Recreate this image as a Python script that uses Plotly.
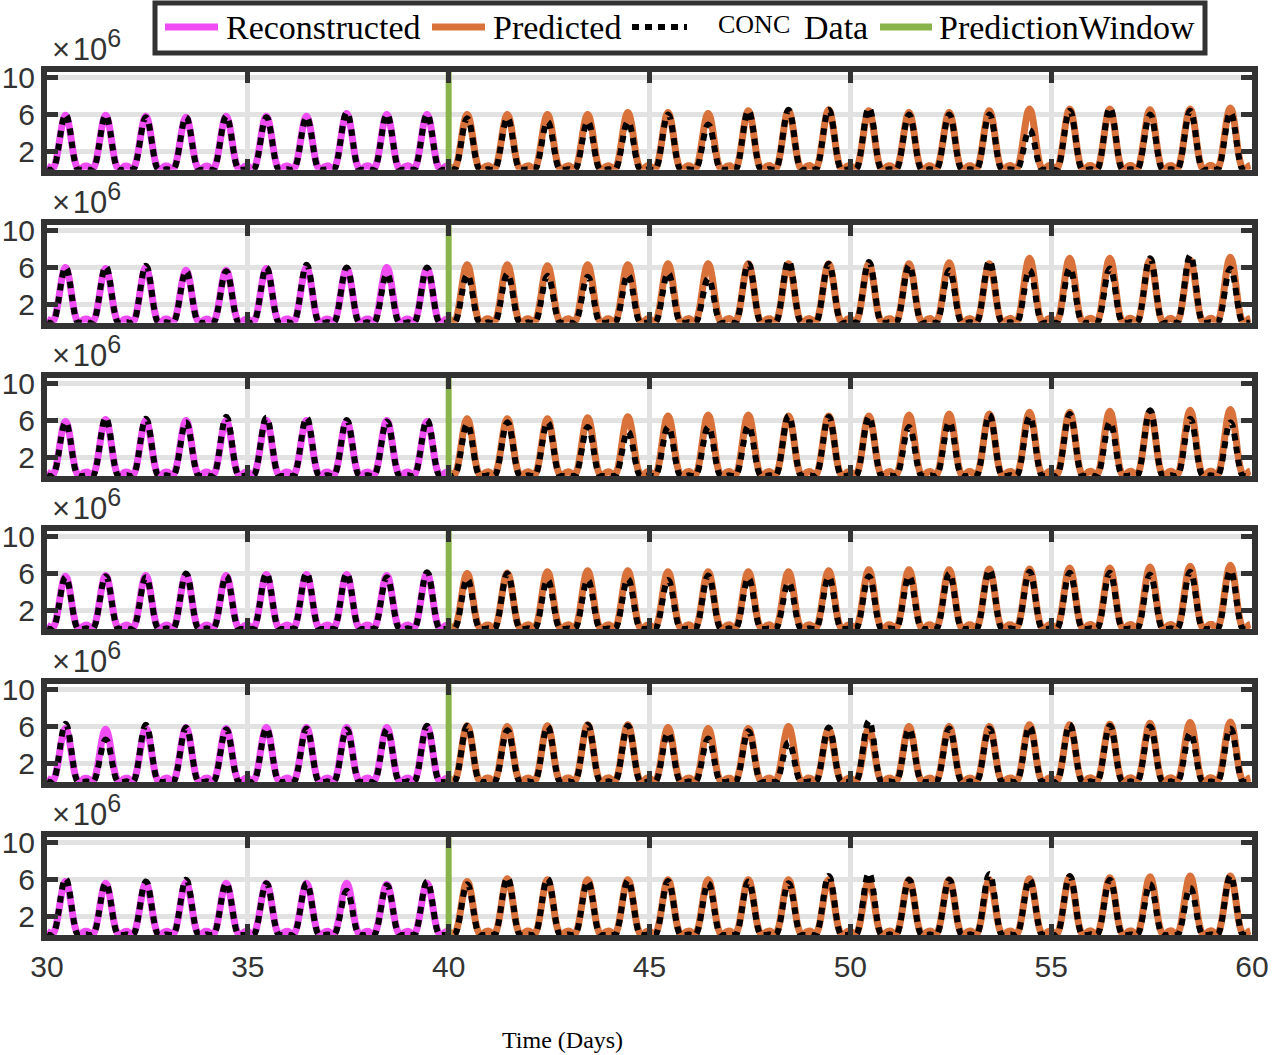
"""Reconstructed vs predicted CONC, six stacked panels (days 30-60)."""

import plotly.graph_objects as go
from plotly.subplots import make_subplots

DAYS = list(range(30, 60))
PREDICTION_START = 40
HOURS_PER_DAY = 24
Y_RANGE = [0, 10.6]          # x10^6
X_TICKS = [30, 35, 40, 45, 50, 55, 60]
Y_TICKS = [2, 6, 10]

# one daily cycle, hourly, as a fraction of that day's peak
MODEL_PROFILE = [0.07, 0.05, 0.02, 0.01, 0.04, 0.12, 0.26, 0.44, 0.64, 0.82, 0.95, 1.00,
                 0.96, 0.84, 0.66, 0.45, 0.26, 0.12, 0.04, 0.01, 0.01, 0.03, 0.06, 0.07]
DATA_PROFILE = [0.01, 0.00, 0.00, 0.00, 0.02, 0.10, 0.24, 0.43, 0.63, 0.82, 0.95, 1.00,
                0.97, 0.85, 0.67, 0.45, 0.25, 0.10, 0.02, 0.00, 0.00, 0.00, 0.00, 0.01]

# daily peaks (x10^6), one list per panel
RECON_PEAKS = [
    [5.9, 5.9, 5.8, 5.7, 5.8, 5.8, 5.8, 6.1, 6.0, 6.0],
    [6.0, 5.9, 6.0, 5.7, 5.7, 5.9, 6.0, 5.9, 6.0, 5.9],
    [5.9, 6.1, 6.0, 6.0, 6.0, 6.0, 6.0, 5.9, 6.0, 5.9],
    [5.7, 5.8, 5.8, 5.9, 5.8, 5.9, 5.9, 5.9, 5.8, 6.0],
    [5.8, 5.7, 5.8, 5.9, 5.8, 5.9, 5.9, 5.9, 5.9, 6.0],
    [5.8, 5.6, 5.6, 5.7, 5.6, 5.6, 5.6, 5.6, 5.5, 5.6],
]
PRED_PEAKS = [
    [6.0, 6.0, 6.0, 6.0, 6.2, 6.2, 6.1, 6.4, 6.4, 6.5, 6.4, 6.2, 6.2, 6.4, 6.6, 6.6, 6.6, 6.5, 6.6, 6.7],
    [6.3, 6.3, 6.2, 6.3, 6.3, 6.4, 6.4, 6.4, 6.4, 6.4, 6.4, 6.4, 6.5, 6.4, 7.0, 7.0, 7.0, 6.8, 6.8, 7.1],
    [6.2, 6.2, 6.2, 6.3, 6.4, 6.5, 6.6, 6.6, 6.5, 6.5, 6.5, 6.6, 6.7, 6.7, 6.9, 6.9, 7.0, 7.0, 7.1, 7.2],
    [6.0, 6.05, 6.2, 6.3, 6.3, 6.2, 6.2, 6.2, 6.2, 6.3, 6.4, 6.4, 6.4, 6.5, 6.5, 6.6, 6.6, 6.7, 6.8, 6.9],
    [6.1, 6.0, 6.1, 6.2, 6.2, 5.9, 5.8, 5.8, 6.0, 5.7, 5.8, 6.0, 6.0, 6.0, 6.2, 6.2, 6.25, 6.35, 6.45, 6.5],
    [5.8, 6.1, 6.0, 6.0, 6.0, 6.0, 6.0, 6.0, 6.0, 6.0, 5.85, 6.0, 6.0, 6.0, 6.1, 6.3, 6.2, 6.3, 6.4, 6.4],
]
DATA_PEAKS = [
    [6.0, 5.9, 5.7, 5.7, 5.8, 5.7, 5.7, 6.2, 6.0, 6.0, 5.6, 5.6, 5.2, 5.2, 5.2,
     6.0, 4.9, 6.4, 6.5, 6.5, 6.7, 6.0, 6.0, 6.0, 4.3, 6.4, 6.7, 6.0, 6.4, 6.2],
    [6.0, 6.1, 6.2, 5.6, 5.6, 6.0, 6.3, 6.0, 5.3, 6.0, 5.2, 5.3, 5.1, 5.0, 5.2,
     5.4, 4.8, 6.4, 6.7, 6.4, 6.6, 6.2, 5.7, 6.7, 5.7, 5.9, 5.9, 7.0, 7.3, 5.9],
    [5.8, 6.3, 6.2, 5.8, 6.4, 6.3, 6.3, 6.05, 5.9, 6.05, 5.6, 5.8, 5.8, 5.3, 4.8,
     5.3, 5.3, 5.4, 6.5, 6.4, 6.4, 5.3, 5.8, 6.6, 6.4, 6.7, 5.8, 7.1, 6.2, 5.8],
    [5.6, 5.7, 5.6, 6.0, 5.7, 6.0, 6.05, 6.0, 5.6, 6.15, 5.4, 6.0, 5.3, 5.3, 5.4,
     5.3, 5.8, 5.5, 5.0, 5.6, 5.7, 5.7, 6.0, 6.4, 6.2, 6.1, 6.1, 5.9, 6.2, 6.3],
    [6.3, 4.6, 6.2, 5.9, 5.7, 5.8, 5.8, 5.7, 5.7, 6.1, 6.1, 5.6, 6.0, 6.2, 6.1,
     5.3, 4.7, 5.5, 4.3, 5.9, 6.6, 5.7, 5.8, 5.8, 6.0, 6.2, 6.1, 6.0, 5.3, 5.8],
    [6.1, 5.6, 5.8, 6.0, 5.6, 5.6, 5.6, 4.8, 5.4, 5.8, 5.5, 6.2, 6.1, 5.8, 5.9,
     5.85, 5.6, 5.8, 5.6, 6.4, 6.7, 6.0, 6.0, 6.6, 6.0, 6.4, 6.0, 5.5, 5.1, 6.4],
]

MAGENTA = "#ef4cf3"
ORANGE = "#d9713a"
GREEN = "#89b34b"
FRAME = "#333333"
GRID = "#e2e2e2"
SANS = "Liberation Sans, Arial, Helvetica"
SERIF = "Liberation Serif, Times New Roman, serif"
DATA_DASH = "7px,6px"

W, H = 1272, 1055
PLOT_LEFT, PLOT_RIGHT, PLOT_TOP, PLOT_BOTTOM = 47, 1252, 72, 935   # page pixels
M_L, M_T = PLOT_LEFT, PLOT_TOP
M_R, M_B = W - PLOT_RIGHT, H - PLOT_BOTTOM


def cycles(days, peaks, profile):
    """Stack the hourly daily profile, scaled by each day's peak."""
    xs, ys = [], []
    for day, peak in zip(days, peaks):
        for h, frac in enumerate(profile):
            xs.append(day + h / HOURS_PER_DAY)
            ys.append(peak * frac)
    return xs, ys


def px_x(px):
    return (px - PLOT_LEFT) / (PLOT_RIGHT - PLOT_LEFT)


def px_y(py):
    return 1 + (PLOT_TOP - py) / (PLOT_BOTTOM - PLOT_TOP)


n_rows = len(DATA_PEAKS)
fig = make_subplots(rows=n_rows, cols=1, shared_xaxes=True, vertical_spacing=0.064)

recon_days = [d for d in DAYS if d < PREDICTION_START]
pred_days = [d for d in DAYS if d >= PREDICTION_START]

for i in range(n_rows):
    row = i + 1
    x, y = cycles(recon_days, RECON_PEAKS[i], MODEL_PROFILE)
    fig.add_trace(go.Scatter(x=x, y=y, mode="lines", name="Reconstructed",
                             line=dict(color=MAGENTA, width=7, shape="spline", smoothing=0.8)),
                  row=row, col=1)
    x, y = cycles(pred_days, PRED_PEAKS[i], MODEL_PROFILE)
    fig.add_trace(go.Scatter(x=x, y=y, mode="lines", name="Predicted",
                             line=dict(color=ORANGE, width=7, shape="spline", smoothing=0.8)),
                  row=row, col=1)
    x, y = cycles(DAYS, DATA_PEAKS[i], DATA_PROFILE)
    fig.add_trace(go.Scatter(x=x, y=y, mode="lines", name="CONC Data",
                             line=dict(color="black", width=6, dash=DATA_DASH,
                                       shape="spline", smoothing=0.8)),
                  row=row, col=1)
    fig.add_trace(go.Scatter(x=[PREDICTION_START, PREDICTION_START], y=Y_RANGE, mode="lines",
                             name="PredictionWindow", line=dict(color=GREEN, width=6)),
                  row=row, col=1)
    yref = "y domain" if row == 1 else f"y{row} domain"
    fig.add_annotation(text="×\u200a10<sup><span style='font-size:25px'>6</span></sup>",
                       xref="paper", yref=yref, x=px_x(50), y=1,
                       xanchor="left", yanchor="bottom", yshift=3, showarrow=False,
                       font=dict(family=SANS, size=31, color=FRAME))

fig.update_traces(showlegend=False)

axis_style = dict(
    showline=True, linecolor=FRAME, linewidth=6, mirror="ticks",
    ticks="inside", ticklen=11, tickwidth=5, tickcolor=FRAME,
    showgrid=True, gridcolor=GRID, gridwidth=5, zeroline=False, automargin=False,
    tickfont=dict(family=SANS, size=30, color=FRAME),
)
fig.update_xaxes(range=[DAYS[0], DAYS[-1] + 1], tickvals=X_TICKS, **axis_style)
fig.update_yaxes(range=Y_RANGE, tickvals=Y_TICKS, **axis_style)

# legend box drawn by hand, MATLAB style
legend_shapes = [
    dict(type="rect", x0=px_x(155), x1=px_x(1205), y0=px_y(53), y1=px_y(3),
         line=dict(color=FRAME, width=5), fillcolor="white"),
    dict(type="line", x0=px_x(165), x1=px_x(218), y0=px_y(27), y1=px_y(27),
         line=dict(color=MAGENTA, width=7)),
    dict(type="line", x0=px_x(432), x1=px_x(485), y0=px_y(27), y1=px_y(27),
         line=dict(color=ORANGE, width=7)),
    dict(type="line", x0=px_x(632), x1=px_x(687), y0=px_y(27), y1=px_y(27),
         line=dict(color="black", width=6, dash=DATA_DASH)),
    dict(type="line", x0=px_x(880), x1=px_x(932), y0=px_y(27), y1=px_y(27),
         line=dict(color=GREEN, width=7)),
]
for s in legend_shapes:
    fig.add_shape(xref="paper", yref="paper", layer="above", **s)

legend_labels = [("Reconstructed", 224, 34), ("Predicted", 491, 34),
                 ("Data", 802, 34), ("PredictionWindow", 937, 34)]
for text, left, size in legend_labels:
    fig.add_annotation(text=text, xref="paper", yref="paper", x=px_x(left), y=px_y(28),
                       xanchor="left", yanchor="middle", showarrow=False,
                       font=dict(family=SERIF, size=size, color="black"))
fig.add_annotation(text="CONC", xref="paper", yref="paper", x=px_x(716), y=px_y(24),
                   xanchor="left", yanchor="middle", showarrow=False, bgcolor="white",
                   font=dict(family=SERIF, size=26, color="black"))

fig.add_annotation(text="Time (Days)", xref="paper", yref="paper", x=px_x(562), y=px_y(1040),
                   xanchor="center", yanchor="middle", showarrow=False,
                   font=dict(family=SERIF, size=24, color="black"))

fig.update_layout(
    width=W, height=H,
    margin=dict(l=M_L, r=M_R, t=M_T, b=M_B, autoexpand=False),
    paper_bgcolor="white", plot_bgcolor="white",
    showlegend=False,
)

# drop the default 8px body margin so the figure sits flush in the window
fig.write_html("out.html", config={"displayModeBar": False},
               post_script="document.body.style.margin = '0';")
